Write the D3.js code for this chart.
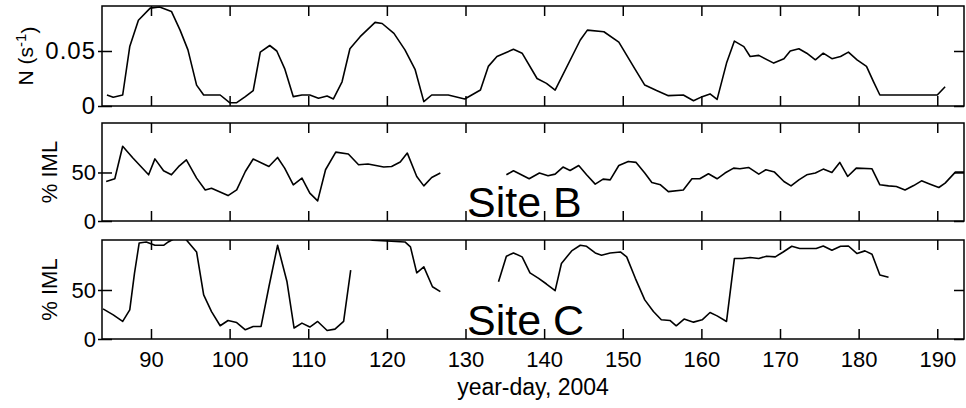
<!DOCTYPE html>
<html>
<head>
<meta charset="utf-8">
<script src="https://cdn.jsdelivr.net/npm/d3@7"></script>
<style>
  body { margin: 0; background: #fff; }
  svg { display: block; }
  text { font-family: "Liberation Sans", Arial, Helvetica, sans-serif; fill: #000; }
</style>
</head>
<body>
<svg id="chart" width="966" height="408"></svg>
<script>
// x axis (year-day)
const xTicks = [90, 100, 110, 120, 130, 140, 150, 160, 170, 180, 190];
const xLabel = "year-day, 2004";

// buoyancy frequency N (s^-1), [day, value]
const nSeries = [
  [84.4, 0.010], [85.2, 0.008], [86.4, 0.010], [87.3, 0.054], [88.4, 0.078], [89.9, 0.089],
  [91.1, 0.090], [92.6, 0.086], [93.7, 0.069], [94.7, 0.051], [95.8, 0.019], [96.7, 0.010],
  [98.8, 0.010], [100, 0.003], [100.9, 0.003], [102, 0.0085], [103, 0.014], [103.9, 0.049],
  [105.1, 0.055], [106, 0.050], [107, 0.034], [108.1, 0.0085], [109.2, 0.010], [110.2, 0.010],
  [111.3, 0.007], [112.4, 0.009], [113.2, 0.0064], [114.3, 0.022], [115.3, 0.052], [116.6, 0.063],
  [118.5, 0.076], [119.4, 0.075], [120.9, 0.066], [122.3, 0.051], [123.6, 0.033], [124.7, 0.004],
  [125.7, 0.010], [127.8, 0.010], [129.9, 0.0064], [131.9, 0.0145], [132.9, 0.036], [134, 0.045],
  [136.1, 0.0515], [137.2, 0.048], [139.1, 0.025], [140.3, 0.0206], [141.4, 0.0145], [144.6, 0.060],
  [145.5, 0.069], [147.6, 0.0675], [149.5, 0.058], [151.6, 0.033], [152.8, 0.019], [154.3, 0.014],
  [155.8, 0.0094], [157.7, 0.010], [159, 0.0048], [160.1, 0.0085], [161.1, 0.011], [162, 0.006],
  [163.2, 0.039], [164.2, 0.059], [165.4, 0.054], [166.2, 0.045], [167.3, 0.046], [169.2, 0.039],
  [170.5, 0.043], [171.3, 0.050], [172.4, 0.052], [173.4, 0.048], [174.5, 0.042], [175.5, 0.048],
  [176.6, 0.043], [177.7, 0.045], [178.7, 0.049], [179.8, 0.042], [181, 0.036], [181.9, 0.022],
  [182.7, 0.010], [190, 0.010], [191, 0.0175]
];

// % IML at site B, null = gap
const siteBSeries = [
  [84.3, 40.7], [85.4, 43.5], [86.4, 77], [87.7, 65], [89.7, 47.6], [90.5, 64], [91.6, 51.8],
  [92.6, 47.6], [93.5, 56], [94.5, 63], [95.8, 44.2], [96.9, 32], [97.7, 33.8], [99.8, 26.2],
  [100.9, 32], [102, 51], [103, 63.9], [105, 56.2], [106.1, 65.5], [107, 54.5], [108.1, 37.3],
  [109.2, 44.2], [110.2, 28.7], [111.2, 20.7], [112.2, 52.8], [113.5, 71], [115.1, 69], [116.4, 58],
  [117.6, 58.7], [119.6, 55.6], [120.6, 56.2], [121.7, 60.8], [122.6, 70], [123.8, 45.9],
  [124.7, 36.2], [125.7, 44.8], [126.8, 49.4],
  [131, null],
  [135.2, 47.6], [136.1, 51.8], [138.1, 43.5], [139.4, 49.4], [140.5, 46.6], [141.4, 48.3],
  [142.4, 55.6], [143.3, 52], [144.4, 57.2], [145.4, 47.6], [146.5, 38], [147.5, 43.2],
  [148.4, 42.4], [149.5, 57.2], [150.7, 61.4], [151.7, 60.4], [152.8, 49.4], [153.7, 39.7],
  [154.8, 37.3], [155.8, 30.3], [157.7, 32], [158.8, 43.5], [159.8, 43.5], [160.9, 48.7],
  [162, 43.5], [163, 49.4], [164.1, 54.5], [164.9, 53.8], [166, 55.2], [167.3, 48.3],
  [168.2, 52.8], [169.3, 50.4], [170.5, 40.7], [171.4, 36.2], [172.4, 42.4], [173.4, 47.6],
  [174.5, 49.4], [175.5, 53.5], [176.6, 50], [177.6, 60.4], [178.6, 45.9], [179.7, 54.5],
  [181.7, 53.8], [182.7, 37.3], [183.8, 36.2], [184.8, 35.5], [185.9, 32], [187, 36.5],
  [188, 41.4], [189.1, 38], [190.2, 34.5], [191, 39], [192.3, 50.4], [193.6, 50.4]
];

// % IML at site C, null = gap
const siteCSeries = [
  [83.9, 30.7], [85.2, 24.6], [86.4, 17.9], [87.3, 29.7], [87.9, 67], [88.5, 98], [89.4, 99],
  [90.5, 95.6], [91.6, 95.6], [92.2, 99], [92.9, 102], [94.4, 102], [95.8, 88.8], [96.7, 45],
  [97.7, 28], [98.8, 13.5], [99.8, 18.9], [100.9, 16.8], [102, 9.4], [103, 12.8], [104, 12.8],
  [105, 53.3], [106.1, 95.6], [107.3, 58.4], [108.2, 11.2], [109.2, 16.2], [110.2, 12.2],
  [111.2, 17.9], [112.4, 8.7], [113.4, 10.1], [114.5, 17.9], [115.4, 70.3],
  [116.5, null],
  [117.2, 104], [118.2, 100.7], [120, 100], [122.3, 99], [123, 94], [123.8, 67.5], [124.7, 73.6],
  [125.8, 53.3], [126.8, 48.3],
  [130, null],
  [134.2, 58.4], [135.2, 84.5], [136.1, 87.8], [137.2, 83.8], [138.2, 67.5], [139.3, 61.9],
  [140.3, 56.1], [141.4, 49.3], [142.2, 77], [143.5, 89.9], [144.6, 95.6], [145.4, 94.6],
  [146.5, 87.8], [147.3, 85.5], [148.4, 87.8], [149.7, 88.8], [150.5, 83.8], [151.6, 61.9],
  [152.8, 39.9], [153.9, 28], [154.9, 19.6], [156, 18.9], [156.8, 13.5], [157.8, 20.3],
  [159, 17.2], [160.1, 19.6], [161.1, 27], [162, 23.6], [163.2, 17.9], [164.2, 82.2],
  [165.2, 82.2], [166.2, 83.2], [167.3, 82.2], [168.3, 84.5], [169.4, 83.8], [170.4, 88.8],
  [171.5, 94.6], [172.5, 92.3], [173.6, 92.3], [174.6, 92.3], [175.5, 94.9], [176.6, 90.6],
  [177.7, 94.6], [178.7, 94.9], [179.8, 87.2], [180.8, 89.9], [181.7, 86.5], [182.7, 65.2],
  [183.8, 62.9]
];

const nTicks = [0, 0.05];
const imlTicks = [0, 50];

const svg = d3.select("#chart");
const left = 102, right = 964;

const x = d3.scaleLinear().domain([83.77, 193.4]).range([left, right]);

const panels = [
  {id: "n", data: nSeries, top: 6, bottom: 106, domain: [0, 0.0909], ticks: nTicks,
   fmt: d => d === 0 ? "0" : d3.format(".2f")(d), tickFont: 24, tickSpacing: 1, site: null, xLabels: false},
  {id: "b", data: siteBSeries, top: 123, bottom: 221, domain: [0, 101], ticks: imlTicks,
   fmt: d3.format("d"), tickFont: 22, tickSpacing: 0, site: "Site B", xLabels: false},
  {id: "c", data: siteCSeries, top: 240, bottom: 339, domain: [0, 101], ticks: imlTicks,
   fmt: d3.format("d"), tickFont: 22, tickSpacing: 0, site: "Site C", xLabels: true}
];

panels.forEach(p => {
  const y = d3.scaleLinear().domain(p.domain).range([p.bottom, p.top]);
  const g = svg.append("g").attr("class", "panel-" + p.id);

  g.append("clipPath").attr("id", "clip-" + p.id)
    .append("rect")
    .attr("x", left).attr("y", p.top)
    .attr("width", right - left).attr("height", p.bottom - p.top);

  if (p.site) {
    g.append("text")
      .attr("x", x(130.2))
      .attr("y", p.bottom - 4)
      .style("font-size", "43px")
      .text(p.site);
  }

  const line = d3.line()
    .defined(d => d[1] !== null)
    .x(d => x(d[0]))
    .y(d => y(d[1]));

  g.append("path")
    .datum(p.data)
    .attr("clip-path", `url(#clip-${p.id})`)
    .attr("fill", "none")
    .attr("stroke", "#000")
    .attr("stroke-width", 1.6)
    .attr("stroke-linejoin", "round")
    .attr("d", line);

  // inward x ticks, bottom and top of each frame
  const axB = g.append("g")
    .attr("transform", `translate(0,${p.bottom})`)
    .call(d3.axisBottom(x).tickValues(xTicks).tickSizeInner(-10).tickSizeOuter(0));
  const axT = g.append("g")
    .attr("transform", `translate(0,${p.top})`)
    .call(d3.axisTop(x).tickValues(xTicks).tickSizeInner(-10).tickSizeOuter(0));
  axT.selectAll("text").remove();
  if (!p.xLabels) axB.selectAll("text").remove();
  axB.selectAll("text").style("font-size", "22px").attr("dy", "0.71em").attr("y", 12);

  const axL = g.append("g")
    .attr("transform", `translate(${left},0)`)
    .call(d3.axisLeft(y).tickValues(p.ticks).tickFormat(p.fmt).tickSizeInner(-10).tickSizeOuter(0).tickPadding(6));
  axL.attr("font-size", null).attr("font-family", null);
  axL.selectAll("line").attr("x1", -4);
  axL.selectAll("text")
    .attr("font-size", p.tickFont)
    .style("font-size", p.tickFont + "px")
    .style("letter-spacing", p.tickSpacing + "px");
  const axR = g.append("g")
    .attr("transform", `translate(${right},0)`)
    .call(d3.axisRight(y).tickValues(p.ticks).tickSizeInner(-10).tickSizeOuter(0));
  axR.selectAll("text").remove();

  [axB, axT, axL, axR].forEach(a => {
    a.select(".domain").remove();
    a.selectAll("line").attr("stroke", "#000").attr("stroke-width", 1.5);
  });

  g.append("rect")
    .attr("x", left).attr("y", p.top)
    .attr("width", right - left).attr("height", p.bottom - p.top)
    .attr("fill", "none")
    .attr("stroke", "#000")
    .attr("stroke-width", 1.5);
});

// y labels
const nLabel = svg.append("text")
  .attr("transform", "translate(33,56) rotate(-90)")
  .attr("text-anchor", "middle")
  .style("font-size", "21px");
nLabel.append("tspan").text("N (s");
nLabel.append("tspan").attr("dy", "-0.45em").style("font-size", "15px").text("-1");
nLabel.append("tspan").attr("dy", "0.45em").text(")");

[panels[1], panels[2]].forEach(p => {
  svg.append("text")
    .attr("transform", `translate(57,${(p.top + p.bottom) / 2}) rotate(-90)`)
    .attr("text-anchor", "middle")
    .style("font-size", "22px")
    .text("% IML");
});

svg.append("text")
  .attr("x", (left + right) / 2)
  .attr("y", 395)
  .attr("text-anchor", "middle")
  .style("font-size", "23px")
  .text(xLabel);
</script>
</body>
</html>
